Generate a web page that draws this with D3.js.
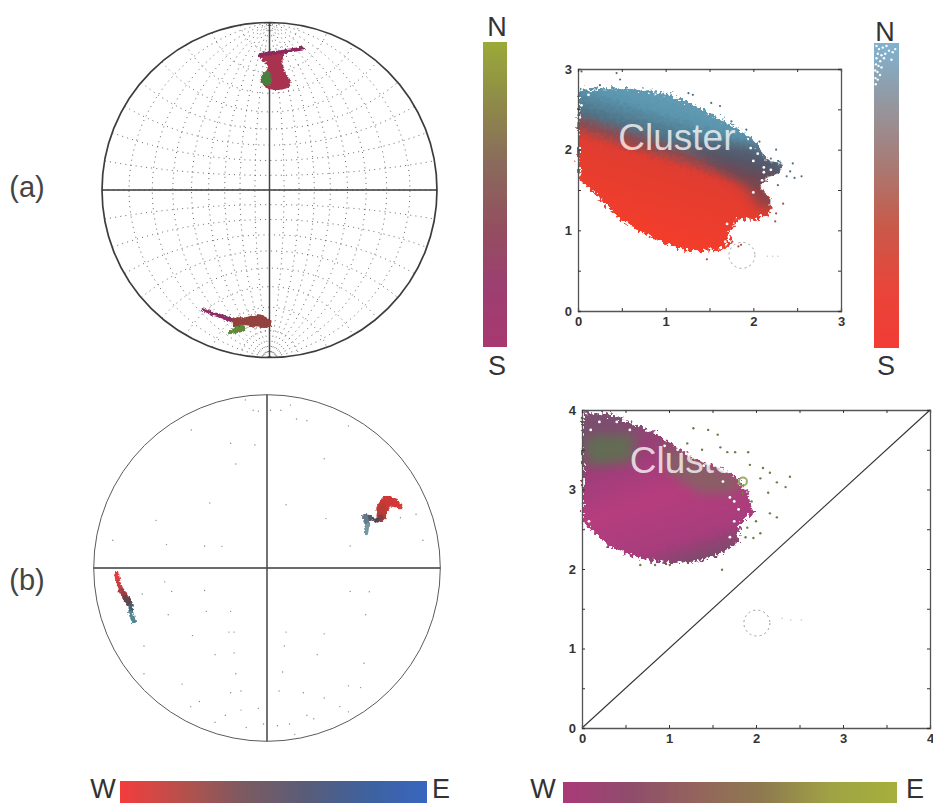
<!DOCTYPE html>
<html><head><meta charset="utf-8">
<script src="https://cdn.jsdelivr.net/npm/d3@7"></script>
<style>html,body{margin:0;padding:0;background:#fff}svg{display:block}text{font-family:"Liberation Sans",Arial,sans-serif}</style>
</head><body><svg id="c" width="933" height="805"></svg>
<script>
// ---------- data (net coordinates: -100..100 of the net radius) ----------
const topStreakA=[[19.6,84.5],[12.5,83.3],[5.4,82.1],[-0.6,81.5],[-6,80.4]];
const topBlobA=[[-4,80],[8,80.5],[7,78],[7.5,74],[9.5,68],[11.9,64],[11.3,62],[3,60.5],[-3.5,63],[-4.5,68],[-1,71],[-1,76],[-4,78]];
const topGreenA=[[-4.5,68],[-1,71.5],[1,68],[1,63],[-3.5,63]];
const botStreakA=[[-39.3,-71.4],[-33.9,-73.8],[-28,-75.6],[-22,-78]];
const botBlobA=[[-21.4,-77.4],[-14.3,-76.8],[-6.5,-75],[-2.4,-76.8],[0,-78.6],[0,-81],[-8.3,-81],[-14.3,-79.8],[-18.5,-81],[-21.4,-80.4]];
const botGreenA=[[-24.4,-85.1],[-19.6,-82.1],[-15.5,-81],[-14.9,-83.3],[-19.6,-85.1]];
const trackRightB=[[76.9,35.3],[74,37.6],[69.4,38.7],[66.5,34.1],[65.9,29.5],[63.6,27.7],[59.5,28.9],[56.6,29.5],[57.8,24.9],[57.2,20.8]];
const trackRightColors=["#d8403c","#d63a36","#cf3833","#c83a36","#a8393c","#5a3f50","#4a4a5c","#5a6a7c","#6a8a98","#7fa6b0"];
const trackRightWidths=[4,6,12,12,7,3.5,4,7,4,5];
const trackLeftB=[[-86.7,-3.5],[-86.1,-8.1],[-83.8,-13.3],[-81.5,-17.3],[-78.6,-21.4],[-78.6,-26],[-76.9,-30.6]];
const trackLeftColors=["#ee3a3c","#e23c40","#b43c40","#8a3c44","#3c4c58","#4a7c8c","#5a8ea0"];
const trackLeftWidths=[4.5,5,4.5,7.5,4,5,4.5];
const specksB=[[-43.7,79.6],[-21,72],[-7,71],[-18,60],[33,63],[47,82],[-33,37.5],[11,36.5],[-64,27.5],[-89,16],[-58,13.5],[-36,12.7],[-26,12.5],[48,12.7],[90,16],[86,31],[77,29],[34,28.5],[48,-13.5],[59,-13.7],[-72,-15],[-59,-8],[-55,-13.5],[-36,-13],[-35,-25],[-57,-27],[-21,-25],[57,-27],[-71,-45],[-43,-39],[-22,-37],[-19,-37],[11,-37],[33,-38],[10,-45],[29,-50],[-30,-50],[-19,-49],[56,-55],[9,-60],[-71,-61],[-18,-61],[-49,-67],[-21,-72],[-15,-71],[7,-71],[21,-72],[33,-75],[54,-69],[47,-68],[-39,-77],[-44,-80],[-24,-85],[-15,-82],[-5,-81],[-12,-92],[-30,-89],[-2,-90],[6,-91],[13,-90],[16,-96],[23,-85],[27,-87],[42,-80],[47,-83],[-12.5,97],[-8,91],[-5,90.5],[2,91],[8,91],[13.5,94],[23,85],[17,86]];

// cluster outlines (data units of each scatter plot)
const clusterA=[[.01,2.74],[.25,2.76],[.55,2.76],[.82,2.72],[1.08,2.68],[1.31,2.56],[1.54,2.43],[1.81,2.27],[2.04,2.08],[2.15,1.87],[2.34,1.83],[2.30,1.71],[2.15,1.65],[2.07,1.54],[2.20,1.38],[2.19,1.21],[2.04,1.13],[1.81,1.13],[1.71,.96],[1.75,.84],[1.62,.76],[1.35,.74],[1.12,.78],[.78,.94],[.44,1.17],[.17,1.48],[.02,1.61],[0,2.0]];
const shadeA=[[1.2,2.1],[2.0,2.05],[2.35,1.85],[2.25,1.25],[2.05,1.3],[1.9,1.55],[1.55,1.8]];
const specksA=[[.44,2.95],[.48,2.87],[.25,2.8],[.04,2.97],[1.26,2.70],[1.31,2.68],[1.52,2.58],[1.62,2.54],[1.75,2.35],[1.92,2.25],[2.07,2.1],[2.26,2.0],[2.2,1.89],[2.45,1.83],[2.42,1.73],[2.55,1.67],[2.47,1.65],[2.38,1.67],[2.28,1.56],[2.34,1.33],[2.26,1.21],[2.25,1.11],[1.47,.64],[1.83,.8],[1.76,.86],[1.86,.82]];
const holesA=[[1.97,2.02],[2.05,1.95],[2.0,1.86],[2.12,1.78],[2.2,1.75],[2.12,1.72],[2.0,1.47],[2.1,1.62],[1.85,1.1],[1.95,1.12],[1.7,1.08],[1.72,.92],[1.68,.86],[.12,2.68],[.04,2.55],[.02,2.4]];
const clusterB=[[.01,3.96],[.28,3.96],[.55,3.84],[.82,3.72],[1.05,3.56],[1.28,3.39],[1.55,3.28],[1.78,3.14],[1.90,2.97],[1.97,2.70],[1.82,2.58],[1.79,2.34],[1.59,2.18],[1.28,2.09],[.98,2.07],[.63,2.14],[.29,2.30],[.11,2.49],[.01,2.59]];
const greenB=[[.04,3.68],[.6,3.7],[.6,3.35],[.2,3.3],[.04,3.32]];
const oliveB=[[.9,3.6],[1.85,3.15],[1.75,2.95],[1.35,2.95],[.95,3.25]];
const greenSpotB=[1.85,3.1];
const specksBScatter=[[1.28,3.77],[1.45,3.75],[1.56,3.69],[1.21,3.58],[1.38,3.5],[1.59,3.53],[1.67,3.47],[1.91,3.47],[1.76,3.47],[1.93,3.31],[2.08,3.27],[2.16,3.21],[2.05,3.14],[2.24,3.09],[2.39,3.16],[2.34,3.03],[2.14,2.96],[2.16,2.7],[2.24,2.65],[1.97,2.39],[2.05,2.45],[1.61,1.99],[.67,2.05],[.84,2.05],[1.01,2.05],[1.85,2.95],[1.95,2.85],[2.0,2.6],[1.9,2.52],[1.88,2.4]];
const holesB=[[1.75,2.85],[1.8,2.75],[1.7,2.9],[1.75,2.6],[1.7,2.4],[1.62,3.1],[1.4,3.3],[1.2,3.45],[.4,3.85],[.2,3.85],[.1,3.75],[.55,3.75],[.08,2.6],[.95,3.55],[1.1,3.5]];
const faintA={c:[1.87,.69],trail:[[2.16,.68],[2.22,.68],[2.28,.68]]};
const faintB={c:[2.01,1.32],trail:[[2.3,1.38],[2.4,1.36],[2.52,1.36]]};
const diagonalB=[[0,0],[4,4]];
const tickValuesA=d3.range(0,3.01,.5), tickValuesB=d3.range(0,4.01,.5);
const barNS_A=["#9aaa38","#8e8a48","#8a6a5c","#93505e","#9c3f72","#a8386f"];
const barNS_Red=["#7fb2d0","#94979f","#a87a74","#c85a4a","#e8453a","#f23c34"];
const barWE_Blue=["#f43c3c","#b8504c","#7c5a60","#5a5c78","#3f629e","#3866c0"];
const barWE_Olive=["#aa3a78","#8f4c6c","#94645c","#8e7a50","#a0a244","#a4b03c"];
const barSpecks=[[.1,.99],[.2,.98],[.35,.985],[.5,.99],[.6,.975],[.15,.965],[.3,.96],[.45,.965],[.1,.95],[.25,.94],[.4,.95],[.08,.93],[.18,.925],[.3,.92],[.05,.91],[.14,.905],[.24,.895],[.06,.885],[.15,.88],[.07,.865],[.75,.97],[.85,.98],[.7,.945]];

// ---------- helpers ----------
const svg=d3.select("#c");
const defs=svg.append("defs");
const soft=defs.append("filter").attr("id","soft").attr("x","-5%").attr("y","-5%").attr("width","110%").attr("height","110%");
soft.append("feGaussianBlur").attr("stdDeviation",.55);
function roughFilter(id,freq,scale,sd){
  const f=defs.append("filter").attr("id",id).attr("x","-15%").attr("y","-15%").attr("width","130%").attr("height","130%");
  f.append("feTurbulence").attr("type","fractalNoise").attr("baseFrequency",freq).attr("numOctaves",2).attr("seed",4).attr("result","n");
  f.append("feDisplacementMap").attr("in","SourceGraphic").attr("in2","n").attr("scale",scale).attr("xChannelSelector","R").attr("yChannelSelector","G").attr("result","d");
  f.append("feGaussianBlur").attr("in","d").attr("stdDeviation",sd);
}
roughFilter("rough",.3,12,.45);
roughFilter("rough2",.35,4,.55);
const blurBig=defs.append("filter").attr("id","blur").attr("x","-40%").attr("y","-40%").attr("width","180%").attr("height","180%");
blurBig.append("feGaussianBlur").attr("stdDeviation",6);

function gradient(id,colors,x1,y1,x2,y2,stops){
  const g=defs.append("linearGradient").attr("id",id).attr("gradientUnits","userSpaceOnUse")
    .attr("x1",x1).attr("y1",y1).attr("x2",x2).attr("y2",y2);
  colors.forEach((c,i)=>g.append("stop").attr("offset",stops?stops[i]:i/(colors.length-1)).attr("stop-color",c));
}
function label(t,x,y,size=27,fill="#333"){
  svg.append("text").attr("x",x).attr("y",y).attr("text-anchor","middle").attr("font-size",size).attr("fill",fill).text(t);
}

// ---------- stereonets ----------
function net(cx,cy,r,strokeW,circleColor){
  const g=svg.append("g").attr("filter","url(#soft)");
  const sx=d3.scaleLinear().domain([-100,100]).range([cx-r,cx+r]);
  const sy=d3.scaleLinear().domain([-100,100]).range([cy+r,cy-r]);
  return {g,sx,sy,cx,cy,r,strokeW,circleColor};
}
function frame(n){
  n.g.append("circle").attr("cx",n.cx).attr("cy",n.cy).attr("r",n.r).attr("fill","none").attr("stroke",n.circleColor).attr("stroke-width",n.strokeW);
  n.g.append("line").attr("x1",n.sx(-100)).attr("x2",n.sx(100)).attr("y1",n.sy(0)).attr("y2",n.sy(0)).attr("stroke","#3a3a3a").attr("stroke-width",1.5);
  n.g.append("line").attr("x1",n.sx(0)).attr("x2",n.sx(0)).attr("y1",n.sy(100)).attr("y2",n.sy(-100)).attr("stroke","#444").attr("stroke-width",1.5);
}
const lineOf=n=>d3.line().x(d=>n.sx(d[0])).y(d=>n.sy(d[1]));
const closed=n=>d3.line().x(d=>n.sx(d[0])).y(d=>n.sy(d[1])).curve(d3.curveCatmullRomClosed);
function track(n,pts,colors,widths){
  const g=n.g.append("g").attr("filter","url(#rough2)");
  d3.pairs(d3.range(pts.length)).forEach(([a,b])=>{
    g.append("path").attr("d",lineOf(n)([pts[a],pts[b]])).attr("fill","none")
      .attr("stroke",d3.interpolateRgb(colors[a],colors[b])(.5)).attr("stroke-width",(widths[a]+widths[b])/2).attr("stroke-linecap","round");
  });
}

// Net (a)
const na=net(269.5,190,167.5,1.7,"#3d3d3d");
const proj=d3.geoStereographic().scale(na.r).translate([na.cx,na.cy]).clipAngle(89.9).precision(.3);
const grat=d3.geoGraticule().extent([[-180,-90],[180,90.001]]).step([10,10]);
na.g.append("path").datum(grat()).attr("d",d3.geoPath(proj)).attr("fill","none").attr("stroke","#555").attr("stroke-width",.9).attr("stroke-dasharray","1 4.2");
frame(na);
const pathA=lineOf(na);
const marksA=na.g.append("g").attr("filter","url(#rough2)");
marksA.append("path").attr("d",closed(na)(topBlobA)).attr("fill","#a83350").attr("stroke","#a83350").attr("stroke-width",2.5);
marksA.append("path").attr("d",closed(na)(topGreenA)).attr("fill","#46803c");
marksA.append("path").attr("d",pathA(topStreakA)).attr("fill","none").attr("stroke","#8c2c60").attr("stroke-width",4).attr("stroke-linecap","round");
marksA.append("path").attr("d",pathA(botStreakA)).attr("fill","none").attr("stroke","#8c2f66").attr("stroke-width",4).attr("stroke-linecap","round");
marksA.append("path").attr("d",closed(na)(botBlobA)).attr("fill","#93423f").attr("stroke","#93423f").attr("stroke-width",3);
marksA.append("path").attr("d",closed(na)(botGreenA)).attr("fill","#5f8a3a").attr("stroke","#5f8a3a").attr("stroke-width",1.5);

// Net (b)
const nb=net(267,568,173.3,1,"#5a5a5a");
frame(nb);
nb.g.selectAll("circle.s").data(specksB).join("circle").attr("class","s").attr("cx",d=>nb.sx(d[0])).attr("cy",d=>nb.sy(d[1])).attr("r",.7).attr("fill","#888");
track(nb,trackRightB,trackRightColors,trackRightWidths);
track(nb,trackLeftB,trackLeftColors,trackLeftWidths);

// ---------- scatter plots ----------
function scatter(x0,x1,y0,y1,domMax,ticks,color){
  const x=d3.scaleLinear().domain([0,domMax]).range([x0,x1]);
  const y=d3.scaleLinear().domain([0,domMax]).range([y0,y1]);
  const g=svg.append("g");
  return {g,x,y,domMax,ticks,color};
}
function axes(p){
  const fmt=d=>Number.isInteger(d)?d:"";
  const ax=(sel,gen)=>{sel.call(gen);sel.selectAll("path").attr("stroke","#555").attr("stroke-width",1.3);
    sel.selectAll("line").attr("stroke","#333").attr("stroke-width",1);
    sel.selectAll("text").attr("font-size",13).attr("font-weight","bold").attr("fill","#333").attr("font-family",'"Liberation Sans",Arial,sans-serif');};
  const [xa,xb]=p.x.range(),[ya,yb]=p.y.range();
  ax(p.g.append("g").attr("transform",`translate(0,${ya})`),d3.axisBottom(p.x).tickValues(p.ticks).tickFormat(fmt).tickSize(-3).tickPadding(6));
  ax(p.g.append("g").attr("transform",`translate(${xa},0)`),d3.axisLeft(p.y).tickValues(p.ticks).tickFormat(fmt).tickSize(-3).tickPadding(6));
  ax(p.g.append("g").attr("transform",`translate(0,${yb})`),d3.axisTop(p.x).tickValues(p.ticks).tickFormat("").tickSize(-3));
  ax(p.g.append("g").attr("transform",`translate(${xb},0)`),d3.axisRight(p.y).tickValues(p.ticks).tickFormat("").tickSize(-3));
}
const area=(p)=>d3.line().x(d=>p.x(d[0])).y(d=>p.y(d[1])).curve(d3.curveLinearClosed);
function faint(p,f,r){
  p.g.append("circle").attr("cx",p.x(f.c[0])).attr("cy",p.y(f.c[1])).attr("r",r).attr("fill","none").attr("stroke","#999").attr("stroke-width",1).attr("stroke-dasharray","2 3.2");
  p.g.selectAll("circle.t").data(f.trail).join("circle").attr("class","t").attr("cx",d=>p.x(d[0])).attr("cy",d=>p.y(d[1])).attr("r",.7).attr("fill","#bbb");
}
function word(p,t,dx,dy){
  p.g.append("text").attr("x",p.x(dx)).attr("y",p.y(dy)).attr("font-size",37).attr("fill","#fff").attr("fill-opacity",.75).text(t);
}
function dots(p,cls,data,r,fill){
  p.g.selectAll("circle."+cls).data(data).join("circle").attr("class",cls).attr("cx",d=>p.x(d[0])).attr("cy",d=>p.y(d[1])).attr("r",r).attr("fill",fill);
}
function clip(id,p,pts){ defs.append("clipPath").attr("id",id).append("path").attr("d",area(p)(pts)); }

// Scatter (a)
const pa=scatter(578,841,311,69,3,tickValuesA);
gradient("gradA",["#69a2ba","#5a94ad","#4f7488","#8a4c52","#e03c30","#f23c2c"],pa.x(1.25),pa.y(2.8),pa.x(.75),pa.y(1.0),[0,.22,.36,.45,.54,1]);
clip("clipA",pa,clusterA);
pa.g.append("path").attr("d",area(pa)(clusterA)).attr("fill","url(#gradA)").attr("filter","url(#rough)");
pa.g.append("g").attr("clip-path","url(#clipA)").append("path").attr("d",area(pa)(shadeA)).attr("fill","#574a5a").attr("opacity",.62).attr("filter","url(#blur)");
dots(pa,"h",holesA,1.4,"#fff");
dots(pa,"s",specksA,1.1,d=>d[1]<1.4?"#b8473f":"#54707f");
word(pa,"Cluster",.46,1.99);
faint(pa,faintA,13);
axes(pa);

// Scatter (b)
const pb=scatter(582,930,728,410,4,tickValuesB);
gradient("gradB",["#7b4f70","#a13c7a","#b63c7e","#a83c7c","#7c4a6c"],pb.x(.6),pb.y(4),pb.x(1.2),pb.y(2.05),[0,.3,.55,.85,1]);
clip("clipB",pb,clusterB);
pb.g.append("path").attr("d",area(pb)(clusterB)).attr("fill","url(#gradB)").attr("filter","url(#rough)");
const overB=pb.g.append("g").attr("clip-path","url(#clipB)");
overB.append("path").attr("d",area(pb)(greenB)).attr("fill","#4d8045").attr("opacity",.68).attr("filter","url(#blur)");
overB.append("path").attr("d",area(pb)(oliveB)).attr("fill","#6f7458").attr("opacity",.6).attr("filter","url(#blur)");
dots(pb,"h",holesB,1.4,"#fff");
dots(pb,"s",specksBScatter,1.2,"#6f7a48");
pb.g.append("circle").attr("cx",pb.x(greenSpotB[0])).attr("cy",pb.y(greenSpotB[1])).attr("r",4).attr("fill","none").attr("stroke","#7f9a48").attr("stroke-width",2).attr("opacity",.8);
word(pb,"Cluster",.55,3.21);
pb.g.append("path").attr("d",d3.line().x(d=>pb.x(d[0])).y(d=>pb.y(d[1]))(diagonalB)).attr("stroke","#333").attr("stroke-width",1.1).attr("fill","none");
faint(pb,faintB,13);
axes(pb);

// ---------- colour bars ----------
function bar(id,colors,x,y,w,h,vertical){
  if(vertical) gradient(id,colors,0,y,0,y+h); else gradient(id,colors,x,0,x+w,0);
  svg.append("rect").attr("x",x).attr("y",y).attr("width",w).attr("height",h).attr("fill",`url(#${id})`).attr("filter","url(#soft)");
}
bar("b1",barNS_A,483,42,24,305,true);
bar("b2",barNS_Red,874,43,25,305,true);
bar("b3",barWE_Blue,120,781,307,22,false);
bar("b4",barWE_Olive,563,782,334,21,false);
const bx=d3.scaleLinear().domain([0,1]).range([874,899]), by=d3.scaleLinear().domain([0,1]).range([348,43]);
svg.selectAll("circle.w").data(barSpecks).join("circle").attr("class","w").attr("cx",d=>bx(d[0])).attr("cy",d=>by(d[1])).attr("r",1.2).attr("fill","#fff");

// ---------- labels ----------
label("N",497,36); label("S",497,375);
label("N",885,41); label("S",886,375);
label("W",103,798); label("E",441,798);
label("W",543,798); label("E",915,798);
label("(a)",27,197,29,"#444"); label("(b)",27,590,29,"#444");
</script></body></html>
